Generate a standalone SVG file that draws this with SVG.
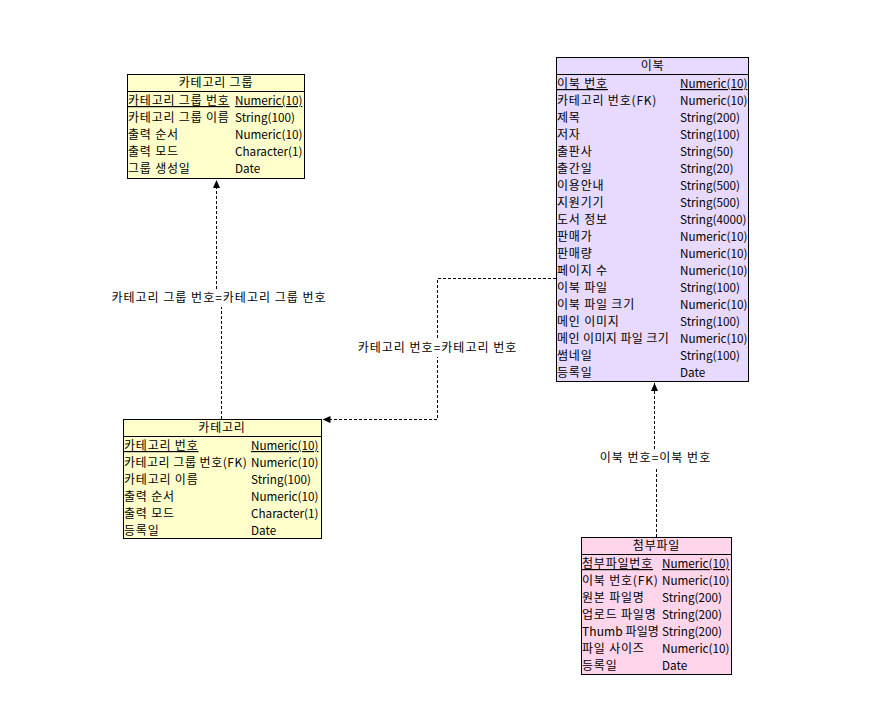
<svg xmlns="http://www.w3.org/2000/svg" width="877" height="724" viewBox="0 0 877 724">
<defs>
<marker id="arr" viewBox="0 0 8 8" refX="8" refY="4" markerWidth="8" markerHeight="8" markerUnits="userSpaceOnUse" orient="auto">
<path d="M0,0.5 L8,4 L0,7.5 z" fill="#000"/>
</marker>
<style>
text{font-family:"Noto Sans CJK KR","Noto Sans",sans-serif;font-size:12px;fill:#000;letter-spacing:0.8px}
.t{font-size:11.7px;letter-spacing:0}
.box{stroke:#000;stroke-width:1}
.yel{fill:#FFFFCC}
.lav{fill:#E8DAFF}
.pink{fill:#FFD5EB}
.sep{stroke:#000;stroke-width:1}
.hd{text-anchor:middle}
.pk{text-decoration:underline}
.conn{fill:none;stroke:#000;stroke-width:1;stroke-dasharray:3,2}
.lbl{text-anchor:middle;letter-spacing:1px}
</style>
</defs>
<rect width="877" height="724" fill="#fff"/>

<g id="connectors">
<path class="conn" d="M221.5,419 V298 H216.5 V180" marker-end="url(#arr)"/>
<path class="conn" d="M556,278.5 H437.5 V419.5 H322.5" marker-end="url(#arr)"/>
<path class="conn" d="M656.5,537 V458 H654.5 V383" marker-end="url(#arr)"/>
<rect x="110" y="289" width="217" height="18" fill="#fff"/>
<text class="lbl" x="219" y="302">카테고리 그룹 번호=카테고리 그룹 번호</text>
<rect x="356" y="339" width="162" height="18" fill="#fff"/>
<text class="lbl" x="437.5" y="352">카테고리 번호=카테고리 번호</text>
<rect x="598" y="449" width="114" height="18" fill="#fff"/>
<text class="lbl" x="655.5" y="462">이북 번호=이북 번호</text>
</g>

<g id="category-group">
<rect class="box yel" x="127.5" y="74.5" width="177" height="104"/>
<line class="sep" x1="127.5" y1="91.5" x2="304.5" y2="91.5"/>
<text class="hd" x="216" y="87">카테고리 그룹</text>
<text class="pk" x="128" y="105">카테고리 그룹 번호</text><text class="pk t" x="235" y="105">Numeric(10)</text>
<text x="128" y="122">카테고리 그룹 이름</text><text class="t" x="235" y="122">String(100)</text>
<text x="128" y="139">출력 순서</text><text class="t" x="235" y="139">Numeric(10)</text>
<text x="128" y="156">출력 모드</text><text class="t" x="235" y="156">Character(1)</text>
<text x="128" y="173">그룹 생성일</text><text class="t" x="235" y="173">Date</text>
</g>

<g id="category">
<rect class="box yel" x="123.5" y="419.5" width="198" height="119"/>
<line class="sep" x1="123.5" y1="436.5" x2="321.5" y2="436.5"/>
<text class="hd" x="222" y="432">카테고리</text>
<text class="pk" x="124" y="450">카테고리 번호</text><text class="pk t" x="251" y="450">Numeric(10)</text>
<text x="124" y="467" style="letter-spacing:0.5px">카테고리 그룹 번호(FK)</text><text class="t" x="251" y="467">Numeric(10)</text>
<text x="124" y="484">카테고리 이름</text><text class="t" x="251" y="484">String(100)</text>
<text x="124" y="501">출력 순서</text><text class="t" x="251" y="501">Numeric(10)</text>
<text x="124" y="518">출력 모드</text><text class="t" x="251" y="518">Character(1)</text>
<text x="124" y="535">등록일</text><text class="t" x="251" y="535">Date</text>
</g>

<g id="ebook">
<rect class="box lav" x="556.5" y="57.5" width="192" height="324"/>
<line class="sep" x1="556.5" y1="74.5" x2="748.5" y2="74.5"/>
<text class="hd" x="652.5" y="70">이북</text>
<text class="pk" x="557" y="88">이북 번호</text><text class="pk t" x="680" y="88">Numeric(10)</text>
<text x="557" y="105">카테고리 번호(FK)</text><text class="t" x="680" y="105">Numeric(10)</text>
<text x="557" y="122">제목</text><text class="t" x="680" y="122">String(200)</text>
<text x="557" y="139">저자</text><text class="t" x="680" y="139">String(100)</text>
<text x="557" y="156">출판사</text><text class="t" x="680" y="156">String(50)</text>
<text x="557" y="173">출간일</text><text class="t" x="680" y="173">String(20)</text>
<text x="557" y="190">이용안내</text><text class="t" x="680" y="190">String(500)</text>
<text x="557" y="207">지원기기</text><text class="t" x="680" y="207">String(500)</text>
<text x="557" y="224">도서 정보</text><text class="t" x="680" y="224">String(4000)</text>
<text x="557" y="241">판매가</text><text class="t" x="680" y="241">Numeric(10)</text>
<text x="557" y="258">판매량</text><text class="t" x="680" y="258">Numeric(10)</text>
<text x="557" y="275">페이지 수</text><text class="t" x="680" y="275">Numeric(10)</text>
<text x="557" y="292">이북 파일</text><text class="t" x="680" y="292">String(100)</text>
<text x="557" y="309">이북 파일 크기</text><text class="t" x="680" y="309">Numeric(10)</text>
<text x="557" y="326">메인 이미지</text><text class="t" x="680" y="326">String(100)</text>
<text x="557" y="343" style="letter-spacing:0.4px">메인 이미지 파일 크기</text><text class="t" x="680" y="343">Numeric(10)</text>
<text x="557" y="360">썸네일</text><text class="t" x="680" y="360">String(100)</text>
<text x="557" y="377">등록일</text><text class="t" x="680" y="377">Date</text>
</g>

<g id="attachment">
<rect class="box pink" x="581.5" y="537.5" width="150" height="137"/>
<line class="sep" x1="581.5" y1="554.5" x2="731.5" y2="554.5"/>
<text class="hd" x="656.5" y="550">첨부파일</text>
<text class="pk" x="582" y="568">첨부파일번호</text><text class="pk t" x="662" y="568">Numeric(10)</text>
<text x="582" y="585">이북 번호(FK)</text><text class="t" x="662" y="585">Numeric(10)</text>
<text x="582" y="602">원본 파일명</text><text class="t" x="662" y="602">String(200)</text>
<text x="582" y="619">업로드 파일명</text><text class="t" x="662" y="619">String(200)</text>
<text x="582" y="636" style="letter-spacing:0.1px">Thumb 파일명</text><text class="t" x="662" y="636">String(200)</text>
<text x="582" y="653">파일 사이즈</text><text class="t" x="662" y="653">Numeric(10)</text>
<text x="582" y="670">등록일</text><text class="t" x="662" y="670">Date</text>
</g>
</svg>
